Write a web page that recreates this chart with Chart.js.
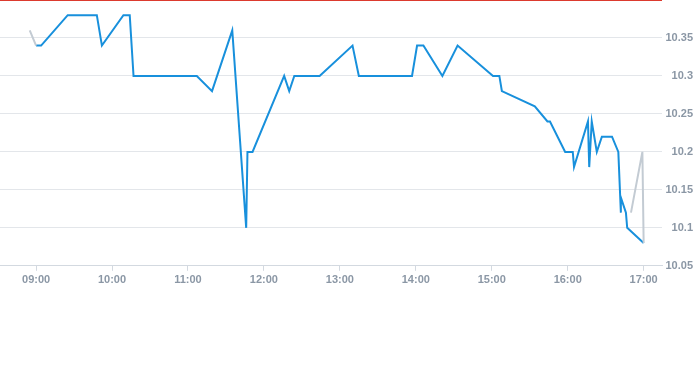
<!DOCTYPE html>
<html>
<head>
<meta charset="utf-8">
<script src="https://cdn.jsdelivr.net/npm/chart.js@4"></script>
<style>
  body { margin: 0; background: #fff; }
  #wrap { width: 693px; height: 365px; position: relative; }
</style>
</head>
<body>
<div id="wrap"><canvas id="intraday"></canvas></div>
<script>
// intraday price, regular session
var sessionTimes = ["09:00", "09:04", "09:25", "09:48", "09:52", "10:09", "10:14", "10:17", "11:07", "11:19",
  "11:35", "11:46", "11:47", "11:51", "12:16", "12:20", "12:24", "12:44", "13:10", "13:15",
  "13:57", "14:01", "14:06", "14:21", "14:33", "15:01", "15:06", "15:08", "15:34", "15:44",
  "15:46", "15:58", "16:04", "16:05", "16:16", "16:17", "16:19", "16:23", "16:27", "16:35",
  "16:40", "16:42", "16:42", "16:46", "16:47", "17:00"];
var sessionPrices = [10.34, 10.34, 10.38, 10.38, 10.34, 10.38, 10.38, 10.30, 10.30, 10.28,
  10.36, 10.10, 10.20, 10.20, 10.30, 10.28, 10.30, 10.30, 10.34, 10.30,
  10.30, 10.34, 10.34, 10.30, 10.34, 10.30, 10.30, 10.28, 10.26, 10.24,
  10.24, 10.20, 10.20, 10.18, 10.24, 10.18, 10.24, 10.20, 10.22, 10.22,
  10.20, 10.12, 10.14, 10.12, 10.10, 10.08];

// auction / off-session trades (null = gap)
var offTimes = ["08:55", "09:00", "12:00", "16:50", "16:59", "17:00"];
var offPrices = [10.36, 10.34, null, 10.12, 10.20, 10.08];

// reference level (red line)
var refTimes = ["08:30", "17:20"];
var refPrices = [10.40, 10.40];

var yTicks = [10.05, 10.1, 10.15, 10.2, 10.25, 10.3, 10.35];

const toMin = t => { const p = t.split(':'); return +p[0] * 60 + +p[1]; };
const pts = (ts, vs) => ts.map((t, i) => ({ x: toMin(t), y: vs[i] }));
const pad2 = n => (n < 10 ? '0' : '') + n;

var labelColor = '#8b97a5';
var tickFont = { family: 'Liberation Sans, Arial, sans-serif', size: 11, weight: 'bold' };

var config = {
  type: 'line',
  data: {
    datasets: [
      {
        label: 'ref',
        data: pts(refTimes, refPrices),
        borderColor: '#dc3a2e',
        borderWidth: 2,
        pointRadius: 0
      },
      {
        label: 'off',
        data: pts(offTimes, offPrices),
        borderColor: '#c3cbd3',
        borderWidth: 2,
        pointRadius: 0,
        spanGaps: false
      },
      {
        label: 'price',
        data: pts(sessionTimes, sessionPrices),
        borderColor: '#1890dc',
        borderWidth: 2,
        pointRadius: 0
      }
    ]
  },
  options: {
    responsive: true,
    maintainAspectRatio: false,
    animation: false,
    layout: { padding: { top: 0, left: 0, right: 0, bottom: 75 } },
    plugins: { legend: { display: false }, tooltip: { enabled: false } },
    scales: {
      x: {
        type: 'linear',
        min: 511.5,
        max: 1034.5,
        grid: { drawOnChartArea: false, drawTicks: true, tickLength: 5, color: '#d3d9e0' },
        border: { display: true, color: '#d3d9e0' },
        ticks: {
          stepSize: 60,
          includeBounds: false,
          maxRotation: 0,
          padding: 3,
          color: labelColor,
          font: tickFont,
          callback: v => pad2(Math.floor(v / 60)) + ':' + pad2(v % 60)
        }
      },
      y: {
        position: 'right',
        min: 10.05,
        max: 10.40,
        grid: { drawTicks: false, color: '#e3e6ea' },
        border: { display: false },
        afterFit: function(s) {
          s.paddingTop = 0;
          s.width = 31;
        },
        ticks: {
          stepSize: 0.05,
          padding: 4,
          crossAlign: 'far',
          color: labelColor,
          font: tickFont,
          callback: function(v) {
            var s = Number(v.toFixed(2));
            return yTicks.indexOf(s) >= 0 ? String(s) : null;
          }
        }
      }
    }
  }
};

const myChart = new Chart(document.getElementById('intraday'), config);
</script>
</body>
</html>
